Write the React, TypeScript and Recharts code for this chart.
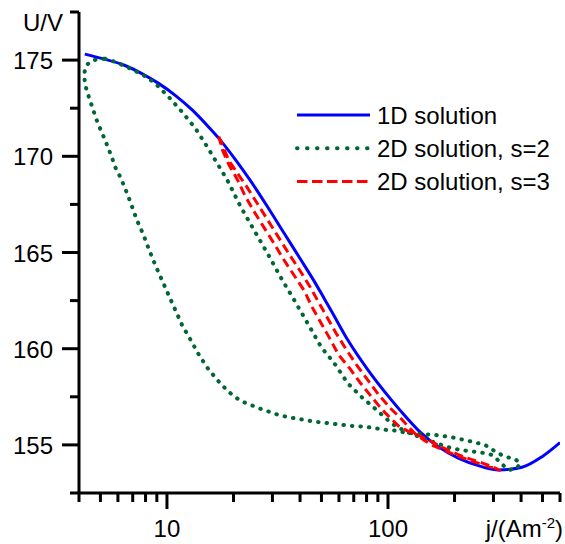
import React from 'react';
import { LineChart, Line, XAxis, YAxis, Legend } from 'recharts';

// ---------- data ----------
const solution1D: [number, number][] = [
  [4.25, 175.31], [5.06, 175.09], [6.46, 174.72], [7.7, 174.3], [9.16, 173.79],
  [10.9, 173.17], [13.0, 172.41], [15.5, 171.5], [17.2, 170.92], [20.4, 169.83],
  [23.9, 168.72], [28.5, 167.38], [33.9, 166.0], [40.4, 164.61], [46.4, 163.5],
  [51.5, 162.6], [55.2, 162.0], [65.8, 160.45], [81.1, 158.9], [103.5, 157.34],
  [114.8, 156.73], [141.5, 155.61], [168.6, 154.91], [208, 154.31], [265, 153.87],
  [316, 153.7], [404, 153.84], [498, 154.39], [600, 155.12],
];

const solution2Ds2: [number, number][] = [
  [5.25, 175.07], [5.82, 174.91], [6.46, 174.69], [7.05, 174.48], [7.7, 174.27],
  [8.85, 173.79], [10.17, 173.09], [11.7, 172.31], [13.45, 171.45], [15.2, 170.5],
  [16.88, 169.63], [18.74, 168.77], [21.54, 167.38], [24.75, 166.17], [28.48, 164.96],
  [32.73, 163.7], [37.63, 162.53], [43.3, 161.32], [49.76, 160.1], [57.2, 159.24],
  [65.8, 158.2], [75.6, 157.51], [86.93, 156.91], [103.5, 156.13], [109.1, 155.95],
  [121.1, 155.69], [146.7, 155.3], [165.8, 155.09], [187.4, 154.88], [211.6, 154.74],
  [239.1, 154.66], [265.5, 154.6], [294.8, 154.48], [317.3, 154.17], [337.8, 153.86],
  [355.9, 153.7], [383, 153.79], [396.4, 154.05], [376.3, 154.26], [338.8, 154.39],
  [310.7, 154.6], [274.9, 155.0], [231, 155.21], [194, 155.4], [162.8, 155.52],
  [141.7, 155.57], [119, 155.64], [109.1, 155.74], [98.2, 155.78], [78.3, 155.95],
  [68.1, 155.99], [57.2, 156.09], [46.4, 156.21], [37.6, 156.39], [32.7, 156.52],
  [26.6, 156.87], [21.5, 157.29], [18.94, 157.77], [16.88, 158.38], [15.09, 159.07],
  [13.83, 159.76], [12.67, 160.54], [11.7, 161.23], [10.91, 162.01], [10.17, 162.79],
  [9.49, 163.57], [8.85, 164.35], [8.31, 165.13], [7.83, 165.91], [7.31, 166.69],
  [6.88, 167.52], [6.69, 167.9], [6.42, 168.42], [6.14, 168.94], [5.82, 169.46],
  [5.62, 169.98], [5.25, 170.84], [4.98, 171.45], [4.81, 171.88], [4.64, 172.4],
  [4.48, 172.92], [4.33, 173.44], [4.25, 173.87], [4.22, 174.31], [4.33, 174.74],
  [4.56, 174.96], [4.89, 175.05], [5.25, 175.07],
];

const solution2Ds3: [number, number][] = [
  [17.16, 171.02], [17.84, 170.58], [18.99, 169.81], [20.81, 169.13], [22.87, 168.45],
  [24.88, 167.78], [27.12, 167.1], [29.7, 166.38], [32.73, 165.6], [36.15, 164.82],
  [40.06, 164.04], [44.43, 163.21], [48.47, 162.43], [52.91, 161.65], [58.14, 160.82],
  [64.44, 159.99], [71.53, 159.21], [80.28, 158.43], [90.16, 157.65], [102.2, 156.92],
  [116.1, 156.3], [123.7, 155.94], [133.1, 155.57], [144.7, 155.26], [160.7, 154.95],
  [182.2, 154.69], [206.5, 154.43], [234.2, 154.2], [265.5, 153.99], [294.8, 153.83],
  [320.6, 153.68],
  [294.8, 153.88], [265.5, 154.07], [234.2, 154.27], [206.5, 154.51], [186, 154.74],
  [167.5, 155.0], [150.9, 155.29], [135.9, 155.52], [122.4, 155.73], [111.4, 155.99],
  [104.6, 156.3], [98.2, 156.61], [90.3, 157.08], [82.2, 157.65], [74.4, 158.27],
  [67.4, 158.95], [59.76, 159.68], [54.65, 160.51], [49.76, 161.34], [45.28, 162.17],
  [41.87, 163.0], [37.51, 163.83], [33.61, 164.66], [30.43, 165.49], [27.41, 166.32],
  [24.68, 167.16], [22.46, 167.99], [20.87, 168.77], [18.99, 169.6], [17.84, 170.32],
  [17.16, 171.02],
];

const xTicks = [4, 5, 6, 7, 8, 9, 10, 20, 30, 40, 50, 60, 70, 80, 90, 100, 200, 300, 400, 500, 600];
const xLabeled = [10, 100];
const yTicks = [152.5, 155, 157.5, 160, 162.5, 165, 167.5, 170, 172.5, 175, 177.5];
const yLabeled = [155, 160, 165, 170, 175];
const xTitle = { main: 'j/(Am', sup: '-2', tail: ')' };
const yTitle = 'U/V';
const seriesNames = ['1D solution', '2D solution, s=2', '2D solution, s=3'];

// ---------- styling ----------
const FONT = "'Liberation Sans', Arial, sans-serif";
const FS = 24;

const toRows = (pts: [number, number][]) => pts.map(([x, y]) => ({ x, y }));

const series = [
  { name: seriesNames[0], data: toRows(solution1D), color: '#0000ff', width: 3, dash: undefined as string | undefined, cap: 'butt', type: 'monotone', legendDash: undefined as string | undefined },
  { name: seriesNames[1], data: toRows(solution2Ds2), color: '#006633', width: 4, dash: '0.5 8', cap: 'round', type: 'linear', legendDash: '0.5 9.5' },
  { name: seriesNames[2], data: toRows(solution2Ds3), color: '#ff0000', width: 3, dash: '9 5', cap: 'butt', type: 'linear', legendDash: '10.5 4.5' },
];

const XTick = (props: any) => {
  const { x, y, payload } = props;
  const v = payload.value;
  const major = xLabeled.includes(v);
  return (
    <g>
      <line x1={x} x2={x} y1={y} y2={y + (major ? 16 : 9)} stroke="#000" strokeWidth={3} />
      {major && (
        <text x={x} y={y + 44} textAnchor="middle" fontSize={FS} fontFamily={FONT} fill="#000">
          {v}
        </text>
      )}
      {v === xTicks[xTicks.length - 1] && (
        <text x={x + 3} y={y + 44} textAnchor="end" fontSize={FS} fontFamily={FONT} fill="#000">
          {xTitle.main}
          <tspan dy={-9} fontSize={15}>{xTitle.sup}</tspan>
          <tspan dy={9} fontSize={FS}>{xTitle.tail}</tspan>
        </text>
      )}
    </g>
  );
};

const YTick = (props: any) => {
  const { x, y, payload } = props;
  const v = payload.value;
  const major = yLabeled.includes(v);
  return (
    <g>
      <line x1={x - (major ? 17 : 9)} x2={x} y1={y} y2={y} stroke="#000" strokeWidth={3} />
      {major && (
        <text x={x - 26} y={y + 9} textAnchor="end" fontSize={FS} fontFamily={FONT} fill="#000">
          {v}
        </text>
      )}
      {v === yTicks[yTicks.length - 1] && (
        <text x={x - 16} y={y + 19} textAnchor="end" fontSize={FS} fontFamily={FONT} fill="#000">
          {yTitle}
        </text>
      )}
    </g>
  );
};

const renderLegend = () => (
  <svg width={275} height={100} style={{ display: 'block', overflow: 'visible' }}>
    {series.map((s, i) => {
      const cy = 17 + i * 33.3;
      return (
        <g key={s.name}>
          <line
            x1={7}
            x2={80}
            y1={cy}
            y2={cy}
            stroke={s.color}
            strokeWidth={s.width}
            strokeDasharray={s.legendDash}
            strokeLinecap={s.cap as any}
          />
          <text x={87} y={cy + 8.5} fontSize={FS} fontFamily={FONT} fill="#000">
            {s.name}
          </text>
        </g>
      );
    })}
  </svg>
);

export default function App() {
  return (
    <div style={{ position: 'absolute', left: 0, top: 0, width: 565, height: 544, background: '#fff' }}>
      <LineChart width={565} height={544} margin={{ top: 12, right: 5, bottom: 0, left: 0 }}>
        <XAxis
          dataKey="x"
          type="number"
          scale="log"
          domain={[4, 600]}
          allowDataOverflow
          ticks={xTicks}
          interval={0}
          tickSize={0}
          tickMargin={0}
          tickLine={false}
          tick={<XTick />}
          height={51}
          axisLine={{ stroke: '#000', strokeWidth: 3 }}
        />
        <YAxis
          type="number"
          domain={[152.5, 177.5]}
          allowDataOverflow
          ticks={yTicks}
          interval={0}
          tickSize={0}
          tickMargin={0}
          tickLine={false}
          tick={<YTick />}
          width={79}
          axisLine={{ stroke: '#000', strokeWidth: 3 }}
        />
        <Legend
          verticalAlign="middle"
          align="center"
          layout="horizontal"
          content={renderLegend}
          wrapperStyle={{ position: 'absolute', left: 290, top: 98, width: 275, height: 100 }}
        />
        {series.map((s) => (
          <Line
            key={s.name}
            name={s.name}
            data={s.data}
            dataKey="y"
            type={s.type as any}
            stroke={s.color}
            strokeWidth={s.width}
            strokeDasharray={s.dash}
            strokeLinecap={s.cap as any}
            strokeLinejoin="round"
            dot={false}
            activeDot={false}
            isAnimationActive={false}
          />
        ))}
      </LineChart>
    </div>
  );
}
